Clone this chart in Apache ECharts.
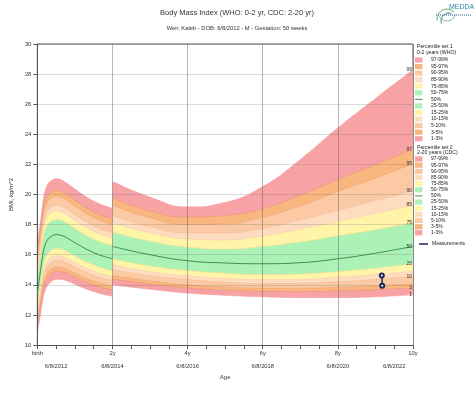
<!DOCTYPE html>
<html><head><meta charset="utf-8">
<script src="https://cdn.jsdelivr.net/npm/echarts@6/dist/echarts.min.js"></script>
<style>html,body{margin:0;padding:0;background:#fff}#c{width:474px;height:398px}</style>
</head><body><div id="c"></div>
<script>
// ---------- DATA ----------
const pctNames = ['1','3','5','10','15','25','50','75','85','90','95','97','99'];
// WHO 0-2 years (age in years)
const whoAges = [0, 0.083, 0.167, 0.25, 0.333, 0.5, 0.667, 0.833, 1, 1.25, 1.5, 1.75, 2];
const whoP1  = [10.81, 12.04, 13.31, 13.87, 14.14, 14.37, 14.36, 14.22, 14.04, 13.77, 13.55, 13.37, 13.24];
const whoP3  = [11.25, 12.56, 13.84, 14.40, 14.67, 14.89, 14.86, 14.71, 14.51, 14.23, 13.99, 13.80, 13.67];
const whoP5  = [11.50, 12.84, 14.13, 14.69, 14.96, 15.17, 15.14, 14.97, 14.78, 14.48, 14.24, 14.04, 13.90];
const whoP10 = [11.89, 13.29, 14.59, 15.15, 15.42, 15.62, 15.58, 15.40, 15.19, 14.89, 14.63, 14.42, 14.28];
const whoP15 = [12.16, 13.59, 14.91, 15.47, 15.74, 15.94, 15.88, 15.70, 15.48, 15.17, 14.90, 14.69, 14.54];
const whoP25 = [12.58, 14.05, 15.39, 15.96, 16.22, 16.41, 16.35, 16.15, 15.92, 15.59, 15.32, 15.10, 14.94];
const whoP50 = [13.41, 14.94, 16.32, 16.90, 17.16, 17.34, 17.26, 17.05, 16.80, 16.44, 16.14, 15.90, 15.74];
const whoP75 = [14.31, 15.87, 17.30, 17.89, 18.16, 18.34, 18.25, 18.01, 17.74, 17.36, 17.03, 16.78, 16.61];
const whoP85 = [14.83, 16.39, 17.85, 18.45, 18.72, 18.90, 18.80, 18.56, 18.28, 17.88, 17.55, 17.29, 17.11];
const whoP90 = [15.19, 16.75, 18.23, 18.84, 19.11, 19.29, 19.19, 18.94, 18.66, 18.25, 17.91, 17.65, 17.46];
const whoP95 = [15.75, 17.29, 18.80, 19.43, 19.71, 19.89, 19.79, 19.53, 19.23, 18.82, 18.47, 18.20, 18.01];
const whoP97 = [16.13, 17.64, 19.18, 19.82, 20.10, 20.29, 20.19, 19.93, 19.62, 19.20, 18.84, 18.57, 18.38];
const whoP99 = [16.88, 18.33, 19.92, 20.59, 20.88, 21.08, 20.97, 20.70, 20.39, 19.95, 19.58, 19.30, 19.10];
// CDC 2-20 years (shown to 10 y)
const cdcAges = [2, 3, 4, 5, 6, 7, 8, 9, 10];
const cdcP1  = [14.00, 13.70, 13.45, 13.30, 13.20, 13.15, 13.15, 13.20, 13.35];
const cdcP3  = [14.38, 14.05, 13.80, 13.65, 13.58, 13.55, 13.60, 13.68, 13.80];
const cdcP5  = [14.60, 14.25, 14.00, 13.85, 13.78, 13.77, 13.83, 13.93, 14.05];
const cdcP10 = [15.00, 14.60, 14.35, 14.17, 14.08, 14.10, 14.20, 14.35, 14.55];
const cdcP15 = [15.33, 14.87, 14.60, 14.42, 14.35, 14.37, 14.50, 14.68, 14.90];
const cdcP25 = [15.73, 15.25, 14.95, 14.77, 14.68, 14.72, 14.88, 15.10, 15.40];
const cdcP50 = [16.55, 16.00, 15.60, 15.45, 15.40, 15.47, 15.73, 16.10, 16.55];
const cdcP75 = [17.50, 16.90, 16.50, 16.38, 16.55, 16.85, 17.25, 17.65, 18.10];
const cdcP85 = [18.13, 17.45, 17.05, 16.98, 17.25, 17.70, 18.20, 18.75, 19.30];
const cdcP90 = [18.60, 17.85, 17.45, 17.45, 17.75, 18.30, 18.95, 19.60, 20.25];
const cdcP95 = [19.30, 18.45, 18.00, 18.05, 18.50, 19.25, 20.20, 21.10, 22.05];
const cdcP97 = [19.80, 18.90, 18.50, 18.60, 19.05, 19.95, 21.00, 22.00, 23.00];
const cdcP99 = [20.90, 19.85, 19.20, 19.50, 20.55, 22.35, 24.45, 26.40, 28.30];
// patient measurements [age (y), BMI]
const measAges = [9.17, 9.18];
const measBMI  = [14.62, 13.93];
// end-of-curve labels shown for CDC
const endLabels = ['99','97','95','90','85','75','50','25','10','3','1'];
// axis tick labels
const ageTickLabels = {0:'birth', 2:'2y', 4:'4y', 6:'6y', 8:'8y', 10:'10y'};
const dateTickLabels = {0.5:'6/8/2012', 2:'6/8/2014', 4:'6/8/2016', 6:'6/8/2018', 8:'6/8/2020', 9.5:'6/8/2022'};
const legendLabels = ['97-99%','95-97%','90-95%','85-90%','75-85%','50-75%','50%','25-50%','15-25%','10-15%','5-10%','3-5%','1-3%'];

// ---------- STYLE ----------
const FONT = 'Liberation Sans, Arial, sans-serif';
const cPink='#f7a2a4', cOrange='#f9b67f', cLtOr='#fbcaa4', cPeach='#fddcc0', cYel='#fff4a8', cGreen='#acf2b6';
// fill colour below each percentile curve (band just beneath it), P1 -> white
const fillBelow = ['#ffffff', cPink, cOrange, cLtOr, cPeach, cYel, cGreen, cGreen, cYel, cPeach, cLtOr, cOrange, cPink];
const curveLine = ['#f09a9c','#ee9478','#f2a26c','#f6bc94','#f8cfae','#f1e08e',null,'#efe08e','#f8cfae','#f6bc94','#f2a26c','#ee9478',null];
const medColor = '#3c8f56';
const legendSwatch = [cPink,cOrange,cLtOr,cPeach,cYel,cGreen,null,cGreen,cYel,cPeach,cLtOr,cOrange,cPink];

function section(key, ages, P, withLabels, sm) {
  const out = [];
  const mkEnd = (name) => (withLabels && endLabels.includes(name))
    ? {show:true, formatter:name, fontSize:5, color:'#333', fontFamily:FONT, align:'right', distance:0, offset:[-1,0]}
    : {show:false};
  for (let k=12;k>=0;k--) {
    const name = pctNames[k];
    if (k===6) continue;
    out.push({type:'line', name:key+'P'+name, data: ages.map((a,i)=>[a, P[k][i]]), symbol:'none', smooth:sm, silent:true,
      areaStyle:{color:fillBelow[k], opacity:1, origin:'start'},
      endLabel: mkEnd(name),
      lineStyle: curveLine[k] ? {color:curveLine[k], width:0.6} : {color:fillBelow[k], width:0.1, opacity:0.01}, z:2});
    if (k===7) {
      out.push({type:'line', name:key+'P50fill', data: ages.map((a,i)=>[a, P[6][i]]), symbol:'none', smooth:sm,
        silent:true, areaStyle:{color:fillBelow[6], opacity:1, origin:'start'}, lineStyle:{width:0, opacity:0}, z:2});
    }
  }
  out.push({type:'line', name:key+'50%', data: ages.map((a,i)=>[a, P[6][i]]), symbol:'none', smooth:sm, silent:true,
    endLabel: mkEnd('50'), lineStyle:{color:medColor, width:1}, z:4});
  return out;
}

const whoP = [whoP1,whoP3,whoP5,whoP10,whoP15,whoP25,whoP50,whoP75,whoP85,whoP90,whoP95,whoP97,whoP99];
const cdcP = [cdcP1,cdcP3,cdcP5,cdcP10,cdcP15,cdcP25,cdcP50,cdcP75,cdcP85,cdcP90,cdcP95,cdcP97,cdcP99];

const series = [].concat(section('who', whoAges, whoP, false, 0.35), section('cdc', cdcAges, cdcP, true, 0.5));
series.push({type:'line', name:'Measurements', data: measAges.map((a,i)=>[a, measBMI[i]]),
  symbol:'emptyCircle', symbolSize:4, lineStyle:{color:'#1c2a5e', width:1.5},
  itemStyle:{color:'#1c2a5e', borderWidth:1}, z:10});

// ---------- LEGEND (graphic) ----------
const g = [];
const txt = (x,y,s,size,extra) => Object.assign({type:'text', x, y, silent:true,
  style:{text:s, fontSize:size||5, fontFamily:FONT, fill:'#222', verticalAlign:'middle', align:'left'}}, extra||{});
function legendBlock(t1, t2, yT, y0, step) {
  g.push(txt(417, yT, t1, 5.2));
  g.push(txt(417, yT+5.7, t2, 5.2));
  legendLabels.forEach((lab,i)=>{
    const y = y0 + i*step;
    if (legendSwatch[i]) g.push({type:'rect', silent:true, shape:{x:415, y:y-2.6, width:7.5, height:5.2}, style:{fill:legendSwatch[i]}});
    else g.push({type:'line', silent:true, shape:{x1:415, y1:y, x2:422.5, y2:y}, style:{stroke:medColor, lineWidth:1}});
    g.push(txt(431, y, lab, 5));
  });
}
legendBlock('Percentile set 1', '0-2 years (WHO)', 46.7, 60, 6.56);
legendBlock('Percentile set 2', '2-20 years (CDC)', 147.3, 159, 6.15);
g.push({type:'line', silent:true, shape:{x1:419, y1:244, x2:428, y2:244}, style:{stroke:'#1c2a5e', lineWidth:1.5}});
g.push(txt(432, 244, 'Measurements', 5));
// logo
g.push({type:'text', x:449, y:7, silent:true, style:{text:'MEDDA', fontSize:7, fontFamily:FONT, fill:'#2f86a8', verticalAlign:'middle', align:'left'}});
g.push({type:'arc', silent:true, shape:{cx:447, cy:19, r:10, startAngle:Math.PI*0.95, endAngle:Math.PI*1.75}, style:{stroke:'#5db565', lineWidth:1, fill:null}});
g.push({type:'arc', silent:true, shape:{cx:449, cy:21, r:8, startAngle:Math.PI*0.9, endAngle:Math.PI*1.6}, style:{stroke:'#2f86a8', lineWidth:1, fill:null}});
g.push({type:'arc', silent:true, shape:{cx:447, cy:12, r:9, startAngle:Math.PI*0.1, endAngle:Math.PI*0.85}, style:{stroke:'#5db565', lineWidth:0.8, fill:null}});
g.push({type:'line', silent:true, shape:{x1:436, y1:15, x2:471, y2:15}, style:{stroke:'#2f5f8a', lineWidth:1.2, lineDash:[1,1]}});

// ---------- CHART ----------
const chart = echarts.init(document.getElementById('c'), null, {renderer:'canvas'});
chart.setOption({
  animation:false,
  backgroundColor:'#fff',
  textStyle:{fontFamily:FONT},
  title:[
    {text:'Body Mass Index (WHO: 0-2 yr, CDC: 2-20 yr)', left:'center', top:8.5, padding:0,
     textStyle:{fontSize:7.5, fontWeight:'normal', color:'#333', fontFamily:FONT}},
    {text:'Weir, Kaleb - DOB: 6/8/2012 - M - Gestation: 50 weeks', left:'center', top:25, padding:0,
     textStyle:{fontSize:5.8, fontWeight:'normal', color:'#333', fontFamily:FONT}}
  ],
  grid:{left:32, right:61, top:44, bottom:53, show:true, borderColor:'#555', borderWidth:1, backgroundColor:'transparent'},
  xAxis:[
    {type:'value', min:0, max:10, interval:2, position:'bottom', z:3,
     axisLine:{show:true, onZero:false, lineStyle:{color:'#555', width:1}},
     axisTick:{show:true, length:4, lineStyle:{color:'#555'}},
     minorTick:{show:true, splitNumber:4, length:4, lineStyle:{color:'#555'}},
     axisLabel:{fontSize:5.8, color:'#333', margin:5, fontFamily:FONT, formatter:v=>ageTickLabels[v]||''},
     splitLine:{show:true, lineStyle:{color:'rgba(90,90,90,0.45)', width:1}}},
    {type:'value', min:0, max:10, interval:0.5, position:'bottom', offset:13,
     axisLine:{show:false}, axisTick:{show:false}, splitLine:{show:false},
     axisLabel:{fontSize:5.8, color:'#333', margin:5, fontFamily:FONT, showMinLabel:true, showMaxLabel:true,
       formatter:v=>dateTickLabels[v]||''},
     name:'Age', nameLocation:'middle', nameGap:12, nameTextStyle:{fontSize:6, color:'#333', fontFamily:FONT}}
  ],
  yAxis:{type:'value', min:10, max:30, interval:2, z:3,
    axisLine:{show:true, lineStyle:{color:'#555'}},
    axisTick:{show:true, length:4, lineStyle:{color:'#555'}},
    axisLabel:{fontSize:5.8, color:'#333', margin:6, fontFamily:FONT},
    splitLine:{show:true, lineStyle:{color:'rgba(110,110,110,0.25)', width:1}},
    name:'BMI, kg/m^2', nameLocation:'middle', nameGap:19, nameRotate:90,
    nameTextStyle:{fontSize:6, color:'#333', fontFamily:FONT}},
  series: series,
  graphic: g
});
</script></body></html>
